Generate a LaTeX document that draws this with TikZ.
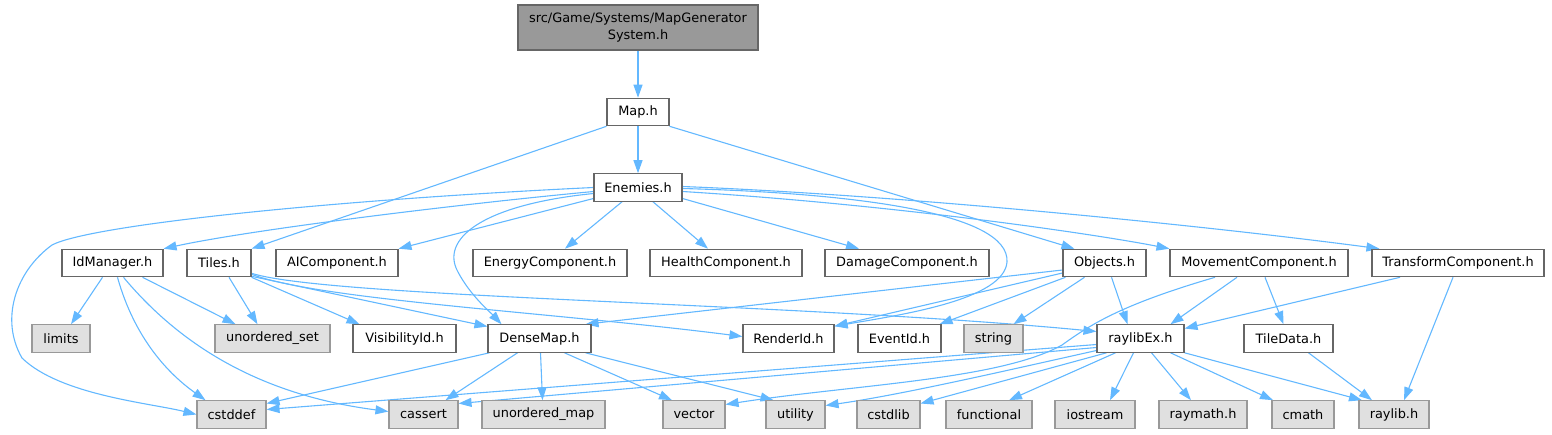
\documentclass[tikz,border=0pt]{standalone}
\usepackage{fontspec}
\setmainfont{DejaVu Sans}
\usetikzlibrary{arrows.meta}
\definecolor{edgec}{HTML}{63B8FF}
\definecolor{bordc}{HTML}{666666}
\definecolor{gfill}{HTML}{E0E0E0}
\definecolor{gbord}{HTML}{999999}
\definecolor{rootfill}{HTML}{999999}
\pgfdeclarelayer{edges}
\pgfsetlayers{edges,main}
\begin{document}
\begin{tikzpicture}[x=1pt,y=-1pt,
  box/.style={draw=bordc, fill=white, line width=1.1pt, minimum height=27.5pt, inner sep=0pt,
    font=\fontsize{12.9}{15}\selectfont, text=black},
  sysbox/.style={box, draw=gbord, fill=gfill},
  rootbox/.style={box, fill=rootfill, minimum height=45pt, align=center,
    font=\fontsize{12.9}{17}\selectfont},
  dep/.style={draw=edgec, line width=1.1pt, -{Triangle[length=13pt,width=9pt]}}
]
\useasboundingbox (0,0) rectangle (1552,434);
% nodes
\node[rootbox, minimum width=240pt] (root) at (638,27.5) {src/Game/Systems/MapGenerator\\System.h};
\node[box, minimum width=62pt] (map) at (638,112) {Map.h};
\node[box, minimum width=88pt] (enemies) at (638,187.5) {Enemies.h};
% row 2
\node[box, minimum width=101pt] (idm) at (112.5,263) {IdManager.h};
\node[box, minimum width=64pt] (tiles) at (219,263) {Tiles.h};
\node[box, minimum width=122pt] (ai) at (337,263) {AIComponent.h};
\node[box, minimum width=154pt] (energy) at (550,263) {EnergyComponent.h};
\node[box, minimum width=152pt] (health) at (726,263) {HealthComponent.h};
\node[box, minimum width=164pt] (damage) at (907,263) {DamageComponent.h};
\node[box, minimum width=83pt] (objects) at (1104.5,263) {Objects.h};
\node[box, minimum width=178pt] (movement) at (1259,263) {MovementComponent.h};
\node[box, minimum width=172pt] (transform) at (1458,263) {TransformComponent.h};
% row 3
\node[sysbox, minimum width=58pt] (limits) at (61,338.5) {limits};
\node[sysbox, minimum width=115pt] (uset) at (272.5,338.5) {unordered\_set};
\node[box, minimum width=103pt] (vis) at (404.5,338.5) {VisibilityId.h};
\node[box, minimum width=103pt] (dense) at (539.5,338.5) {DenseMap.h};
\node[box, minimum width=91pt] (render) at (788.5,338.5) {RenderId.h};
\node[box, minimum width=83pt] (event) at (899.5,338.5) {EventId.h};
\node[sysbox, minimum width=59pt] (string) at (993.5,338.5) {string};
\node[box, minimum width=87pt] (rex) at (1140.5,338.5) {raylibEx.h};
\node[box, minimum width=89pt] (tiledata) at (1288.5,338.5) {TileData.h};
% row 4
\node[sysbox, minimum width=69pt] (cstddef) at (231.5,414.5) {cstddef};
\node[sysbox, minimum width=69pt] (cassert) at (423.5,414.5) {cassert};
\node[sysbox, minimum width=123pt] (umap) at (543.5,414.5) {unordered\_map};
\node[sysbox, minimum width=62pt] (vector) at (694,414.5) {vector};
\node[sysbox, minimum width=59pt] (utility) at (795.5,414.5) {utility};
\node[sysbox, minimum width=63pt] (cstdlib) at (888.5,414.5) {cstdlib};
\node[sysbox, minimum width=86pt] (functional) at (989,414.5) {functional};
\node[sysbox, minimum width=80pt] (iostream) at (1095,414.5) {iostream};
\node[sysbox, minimum width=88pt] (raymath) at (1203,414.5) {raymath.h};
\node[sysbox, minimum width=62pt] (cmath) at (1303,414.5) {cmath};
\node[sysbox, minimum width=70pt] (raylib) at (1394,414.5) {raylib.h};

\begin{pgfonlayer}{edges}
% top edges
\draw[dep] (root) -- (map);
\draw[dep] (map) -- (enemies);
\draw[dep] (map.south west) -- (tiles.north east);
\draw[dep] (map.south east) -- ([xshift=12pt]objects.north west);
% Enemies
\draw[dep] (enemies.west) .. controls (330,200) and (90,225) .. (52,245)
  .. controls (15,272) and (0,320) .. (22,358)
  .. controls (60,395) and (150,403) .. (cstddef.west);
\draw[dep] ([yshift=-4pt]enemies.west) .. controls (450,205) and (250,230) .. (idm.north east);
\draw[dep] ([yshift=-11pt]enemies.west) -- (ai.north east);
\draw[dep] ([yshift=-6pt]enemies.west) .. controls (480,205) and (440,240) .. (458,272)
  .. controls (470,295) and (490,312) .. ([xshift=-38pt]dense.north);
\draw[dep] ([xshift=-16pt]enemies.south) -- ([xshift=15pt]energy.north);
\draw[dep] ([xshift=15pt]enemies.south) -- ([xshift=-18pt]health.north);
\draw[dep] ([yshift=-11pt]enemies.east) -- ([xshift=-48pt]damage.north);
\draw[dep] ([yshift=-1pt]enemies.east) .. controls (850,193) and (1010,212) .. (1007,262)
  .. controls (1004,300) and (900,315) .. ([yshift=-2pt]render.north east);
\draw[dep] ([yshift=-4pt]enemies.east) .. controls (900,205) and (1100,235) .. (movement.north west);
\draw[dep] ([yshift=1pt]enemies.east) .. controls (900,195) and (1200,225) .. ([xshift=8pt]transform.north west);
% Tiles
\draw[dep] ([xshift=10pt]tiles.south) -- ([xshift=-15pt]uset.north);
\draw[dep] (tiles.south east) -- ([xshift=-45pt]vis.north);
\draw[dep] ([yshift=1pt]tiles.south east) -- ([yshift=12pt]dense.west);
\draw[dep] ([yshift=3pt]tiles.south east) .. controls (320,300) and (550,312) .. ([yshift=2pt]render.west);
\draw[dep] ([yshift=4pt]tiles.south east) .. controls (330,298) and (800,303) .. ([yshift=7pt]rex.west);
% IdManager
\draw[dep] ([xshift=-10pt]idm.south) -- ([xshift=10pt]limits.north);
\draw[dep] ([xshift=30pt]idm.south) -- ([xshift=-37pt]uset.north);
\draw[dep] ([xshift=5pt]idm.south) .. controls (135,340) and (170,375) .. ([xshift=-26pt]cstddef.north);
\draw[dep] ([xshift=11pt]idm.south) .. controls (180,345) and (260,395) .. ([yshift=3pt]cassert.west);
% Objects
\draw[dep] ([yshift=-7pt]objects.west) -- ([xshift=-6pt]dense.north east);
\draw[dep] ([yshift=-10pt]objects.west) -- ([yshift=-2pt]render.north east);
\draw[dep] ([xshift=3pt]objects.south west) -- ([xshift=-2pt]event.north east);
\draw[dep] ([xshift=-20pt]objects.south) -- ([xshift=20pt]string.north);
\draw[dep] ([xshift=7pt]objects.south) -- ([xshift=-13pt]rex.north);
% DenseMap
\draw[dep] ([xshift=2pt]dense.south west) -- ([yshift=11pt]cstddef.east);
\draw[dep] ([xshift=-22pt]dense.south) -- ([xshift=22pt]cassert.north);
\draw[dep] ([xshift=1pt]dense.south) -- ([xshift=-1pt]umap.north);
\draw[dep] ([xshift=25pt]dense.south) -- ([xshift=-22pt]vector.north);
\draw[dep] ([xshift=46pt]dense.south) -- ([xshift=-22pt]utility.north);
% raylibEx
\draw[dep] ([yshift=-6pt]rex.west) -- ([yshift=5pt]cstddef.east);
\draw[dep] ([yshift=-9pt]rex.west) -- ([yshift=11pt]cassert.east);
\draw[dep] ([yshift=-12pt]rex.west) .. controls (1000,372) and (900,395) .. ([yshift=9pt]utility.east);
\draw[dep] ([xshift=-34pt]rex.south) -- ([yshift=11pt]cstdlib.east);
\draw[dep] ([xshift=-25pt]rex.south) -- ([xshift=20pt]functional.north);
\draw[dep] ([xshift=-7pt]rex.south) -- ([xshift=15pt]iostream.north);
\draw[dep] ([xshift=11pt]rex.south) -- ([xshift=-12pt]raymath.north);
\draw[dep] ([xshift=30pt]rex.south) -- ([xshift=-30pt]cmath.north);
\draw[dep] (rex.south east) -- ([xshift=-32pt]raylib.north);
% Movement
\draw[dep] ([xshift=-22pt]movement.south) -- ([xshift=30pt]rex.north);
\draw[dep] ([xshift=6pt]movement.south) -- ([xshift=-5pt]tiledata.north);
\draw[dep] ([xshift=-44pt]movement.south) .. controls (1120,305) and (1090,325) .. (1062,345)
  .. controls (1000,380) and (850,385) .. ([yshift=10pt]vector.east);
% Transform
\draw[dep] ([xshift=-58pt]transform.south) -- ([yshift=10pt]rex.east);
\draw[dep] ([xshift=-5pt]transform.south) -- ([xshift=10pt]raylib.north);
\draw[dep] ([xshift=20pt]tiledata.south) -- ([xshift=-22pt]raylib.north);
\end{pgfonlayer}
\end{tikzpicture}
\end{document}
